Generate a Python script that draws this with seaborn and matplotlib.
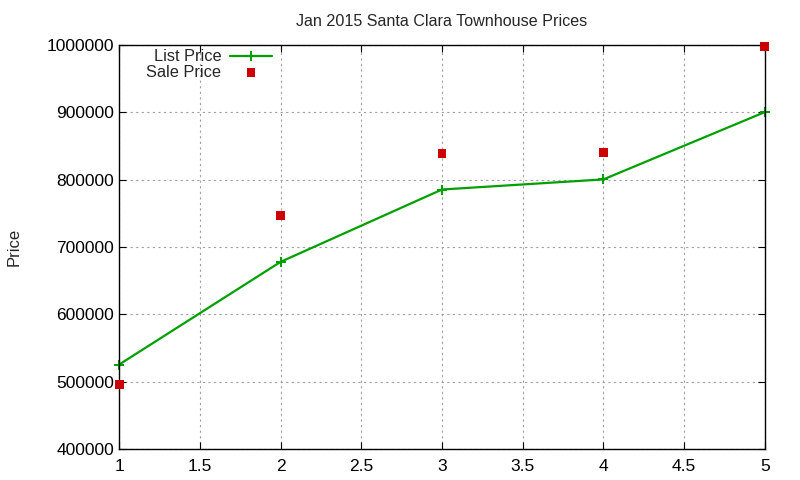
import numpy as np
import pandas as pd
import matplotlib
matplotlib.use("Agg")
import matplotlib.pyplot as plt
import seaborn as sns

# data
months = [1, 2, 3, 4, 5]
list_price = [525500, 678000, 785500, 800500, 900500]
sale_price = [496000, 746500, 839000, 840500, 998500]

df = pd.DataFrame({"x": months, "List Price": list_price, "Sale Price": sale_price})

sns.set_style("ticks")
plt.rcParams["font.family"] = ["Liberation Sans", "DejaVu Sans"]

fig = plt.figure(figsize=(8, 4.8), dpi=100)
ax = fig.add_axes([0.149, 0.0646, 0.807, 0.8414])

sns.lineplot(data=df, x="x", y="List Price", ax=ax, color="#00a000", linewidth=1.6,
             marker="+", markersize=7, markeredgewidth=1.5, markeredgecolor="#00a000",
             label="List Price", clip_on=False)
sns.scatterplot(data=df, x="x", y="Sale Price", ax=ax, color="#cc0000", marker="s",
                s=40, edgecolor="none", label="Sale Price", zorder=3, clip_on=False)

ax.set_xlim(1, 5)
ax.set_ylim(400000, 1000000)
ax.set_xticks(np.arange(1, 5.01, 0.5))
ax.set_xticklabels(["1", "1.5", "2", "2.5", "3", "3.5", "4", "4.5", "5"])
ax.set_yticks(np.arange(400000, 1000001, 100000))
ax.set_yticklabels([str(v) for v in range(400000, 1000001, 100000)])
ax.grid(True, color="#a0a0a0", linestyle=(0, (2, 3)), linewidth=0.8)
ax.tick_params(direction="in", length=5, labelsize=12.5, colors="black")
ax.tick_params(axis="x", pad=7)
ax.xaxis.set_ticks_position("both")
ax.yaxis.set_ticks_position("both")
for s in ax.spines.values():
    s.set_color("black")
    s.set_linewidth(1.0)

ax.set_xlabel("")
ax.set_ylabel("Price", fontsize=12, labelpad=18)
ax.set_title("Jan 2015 Santa Clara Townhouse Prices", fontsize=11.6, pad=14)

leg = ax.legend(loc="upper left", bbox_to_anchor=(0.027, 1.014), frameon=False,
                markerfirst=False, fontsize=11.8, handlelength=2.6,
                labelspacing=0.05, borderaxespad=0.2, handletextpad=0.5)
for t in leg.get_texts():
    t.set_ha("right")
leg._legend_box.align = "right"
fig.savefig("out.png", dpi=100)
